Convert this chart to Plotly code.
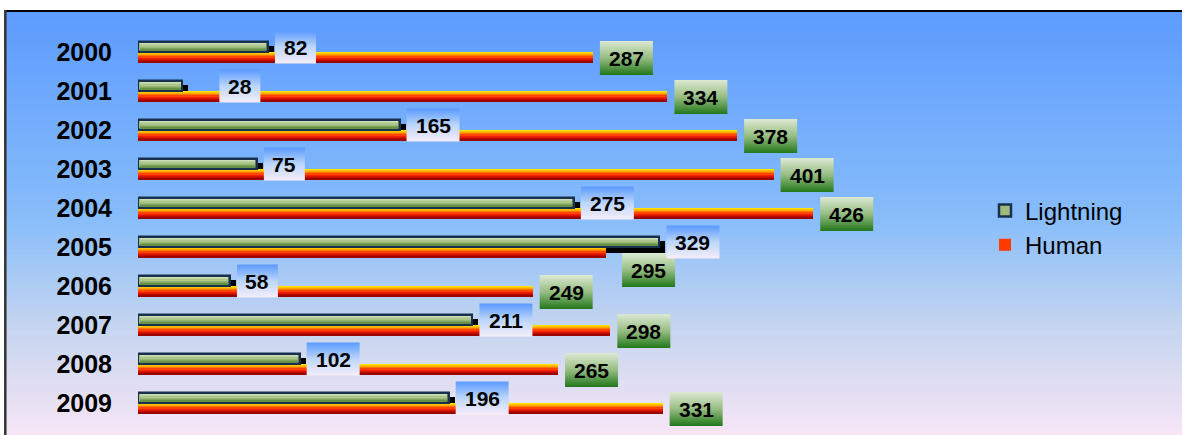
import plotly.graph_objects as go

# ---------------- data ----------------
years = [2000, 2001, 2002, 2003, 2004, 2005, 2006, 2007, 2008, 2009]
lightning = [82, 28, 165, 75, 275, 329, 58, 211, 102, 196]
human = [287, 334, 378, 401, 426, 295, 249, 298, 265, 331]

# ---------------- geometry / style ----------------
W, H = 1182, 435
ML, MT = 138, 10
PLOT_W = W - ML
PLOT_H = H - MT
PX_PER_UNIT = 1.585
XMAX = PLOT_W / PX_PER_UNIT
ROW_PX = 39.0
FIRST_ROW_PX = 52.0
Y_TOP = (MT - FIRST_ROW_PX) / ROW_PX
Y_BOT = (H - FIRST_ROW_PX) / ROW_PX

# label nudges (pixels) for labels moved to avoid overlaps in the original
L_SHIFT = {2001: (30, 0)}
H_SHIFT = {2005: (9.5, 17)}

FONT = "Liberation Sans, Arial, sans-serif"


def ux(px):
    return px / PX_PER_UNIT


def uy(px):
    return px / ROW_PX


def hex2rgb(h):
    h = h.lstrip('#')
    return tuple(int(h[i:i + 2], 16) for i in (0, 2, 4))


def interp(stops, t):
    for (t0, c0), (t1, c1) in zip(stops[:-1], stops[1:]):
        if t0 <= t <= t1:
            f = 0 if t1 == t0 else (t - t0) / (t1 - t0)
            a, b = hex2rgb(c0), hex2rgb(c1)
            return 'rgb(%d,%d,%d)' % tuple(round(a[k] + (b[k] - a[k]) * f) for k in range(3))
    return stops[-1][1]


yi = list(range(len(years)))
fig = go.Figure()

# shadow of lightning bars
fig.add_trace(go.Bar(
    y=yi, x=lightning, base=ux(6), orientation='h',
    offset=uy(-6.5), width=uy(12.5),
    marker=dict(color='black', line=dict(width=0)),
    showlegend=False, hoverinfo='skip'))

# Human bars (main + gradient strips)
fig.add_trace(go.Bar(
    y=yi, x=human, orientation='h', offset=0, width=uy(11),
    marker=dict(color='#ff3a00', line=dict(width=0)),
    name='Human', legendrank=2, hoverinfo='skip'))
human_stops = [(0, '#ffee00'), (0.28, '#ffa800'), (0.58, '#ff2200'), (1, '#8c0000')]
NH = 9
for k in range(NH):
    fig.add_trace(go.Bar(
        y=yi, x=human, orientation='h',
        offset=uy(11) * k / NH, width=uy(11) / NH + 0.002,
        marker=dict(color=interp(human_stops, (k + 0.5) / NH), line=dict(width=0)),
        showlegend=False, hoverinfo='skip'))

# Lightning bars (main with border + gradient strips)
fig.add_trace(go.Bar(
    y=yi, x=lightning, orientation='h', offset=uy(-10), width=uy(10),
    marker=dict(color='#9dbb7c', line=dict(color='#16304e', width=2.5)),
    name='Lightning', legendrank=1, hoverinfo='skip'))
light_stops = [(0, '#d6e5c2'), (0.5, '#a3c080'), (1, '#5a893a')]
NL = 6
inner_top, inner_h = -8.6, 7.2
for k in range(NL):
    fig.add_trace(go.Bar(
        y=yi, x=[v - ux(3) for v in lightning], base=ux(1.5), orientation='h',
        offset=uy(inner_top + inner_h * k / NL), width=uy(inner_h / NL) + 0.002,
        marker=dict(color=interp(light_stops, (k + 0.5) / NL), line=dict(width=0)),
        showlegend=False, hoverinfo='skip'))

# label boxes
annotations = []


def add_box(value, i, center_px, height_px, cscale, shift):
    nd = len(str(value))
    wpx = 17 + 12 * nd
    x0 = value + ux(7 + shift[0])
    x1 = x0 + ux(wpx)
    yc = i + uy(center_px + shift[1])
    y0 = yc - uy(height_px / 2)
    y1 = yc + uy(height_px / 2)
    fig.add_trace(go.Scatter(
        x=[x0, x1, x1, x0, x0], y=[y0, y0, y1, y1, y0],
        mode='lines', line=dict(width=0), fill='toself',
        fillgradient=dict(type='vertical', colorscale=cscale, start=y0, stop=y1),
        showlegend=False, hoverinfo='skip'))
    annotations.append(dict(
        x=(x0 + x1) / 2, y=yc, xref='x', yref='y', text='<b>%d</b>' % value,
        showarrow=False, font=dict(family=FONT, size=21, color='black')))


l_scale = [[0, '#5a9afe'], [0.5, '#bcd6fa'], [1, '#f6edf9']]
h_scale = [[0, '#dde9d3'], [0.5, '#96bd82'], [1, '#22781b']]
for i, (yr, lv, hv) in enumerate(zip(years, lightning, human)):
    add_box(hv, i, 6, 34, h_scale, H_SHIFT.get(yr, (0, 0)))
for i, (yr, lv, hv) in enumerate(zip(years, lightning, human)):
    add_box(lv, i, -5, 33, l_scale, L_SHIFT.get(yr, (0, 0)))

# background gradient strips
bg_stops = [(0, '#5c9bfe'), (0.49, '#88bdfa'), (0.75, '#c6d5ef'), (1, '#f7e6f6')]
shapes = []
NS = 85
x0p = (5 - ML) / PLOT_W
for k in range(NS):
    ya = 1 - k / NS
    yb = 1 - (k + 1) / NS
    shapes.append(dict(type='rect', xref='paper', yref='paper', x0=x0p, x1=1.0,
                       y0=yb - 0.001, y1=ya, layer='below', line=dict(width=0),
                       fillcolor=interp(bg_stops, (k + 0.5) / NS)))
# frame lines
shapes.append(dict(type='line', xref='paper', yref='paper', x0=x0p, x1=1.0,
                   y0=1 - 1 / PLOT_H, y1=1 - 1 / PLOT_H, layer='above',
                   line=dict(color='black', width=2)))
shapes.append(dict(type='line', xref='paper', yref='paper', x0=x0p + 0.3 / PLOT_W,
                   x1=x0p + 0.3 / PLOT_W, y0=0, y1=1, layer='above',
                   line=dict(color='#333333', width=2.5)))

fig.update_layout(
    width=W, height=H,
    margin=dict(l=ML, r=0, t=MT, b=0, pad=0),
    paper_bgcolor='white', plot_bgcolor='rgba(0,0,0,0)',
    barmode='overlay', bargap=0,
    showlegend=True,
    legend=dict(x=(985 - ML) / PLOT_W, y=1 - (228 - MT) / PLOT_H,
                xanchor='left', yanchor='middle', bgcolor='rgba(0,0,0,0)',
                font=dict(family=FONT, size=24, color='black'),
                traceorder='normal'),
    xaxis=dict(range=[0, XMAX], visible=False, fixedrange=True),
    yaxis=dict(range=[Y_BOT, Y_TOP], tickmode='array', tickvals=yi,
               ticktext=['<b>%d</b>' % y for y in years],
               tickfont=dict(family=FONT, size=25, color='black'),
               ticks='outside', ticklen=20, tickcolor='rgba(0,0,0,0)',
               showgrid=False, zeroline=False, showline=False),
    shapes=shapes,
    annotations=annotations,
)

fig.write_html("out.html")
